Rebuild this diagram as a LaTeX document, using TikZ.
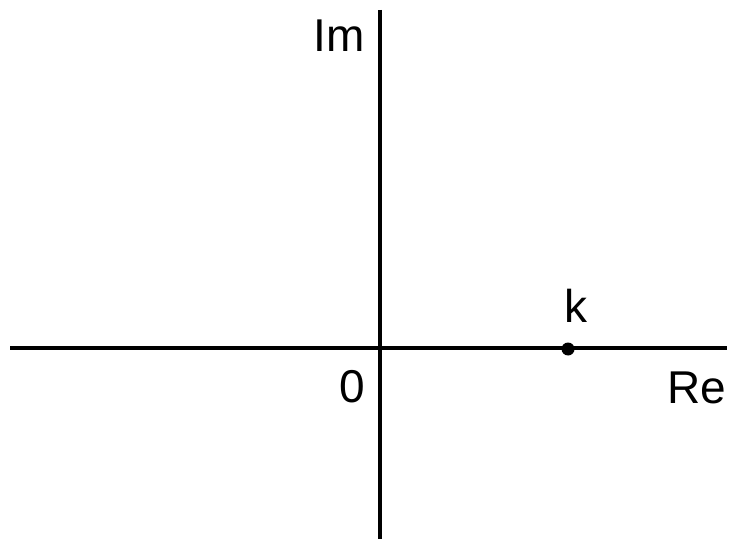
\documentclass[tikz,border=0pt]{standalone}
\usepackage{fontspec}
\setmainfont{Liberation Sans}
\begin{document}
\begin{tikzpicture}[x=1bp,y=-1bp,
  axis/.style={line width=3.2bp,black},
  lbl/.style={inner sep=0pt,anchor=base,font=\fontsize{46bp}{50bp}\selectfont},
  pt/.style={circle,fill=black,inner sep=0pt,minimum size=13bp}]
\useasboundingbox (0,0) rectangle (731,539);
\coordinate (xl) at (10,348);
\coordinate (xr) at (727,348);
\coordinate (yt) at (380,10);
\coordinate (yb) at (380,539);
\draw[axis] (xl) -- (xr);
\draw[axis] (yt) -- (yb);
\node[pt] (k) at (568,349) {};
\node[lbl] (klbl) at (576,322) {k};
\node[lbl] (im) at (339,52) {Im};
\node[lbl] (zero) at (352.5,402) {0};
\node[lbl] (re) at (697,403) {Re};
\end{tikzpicture}
\end{document}
